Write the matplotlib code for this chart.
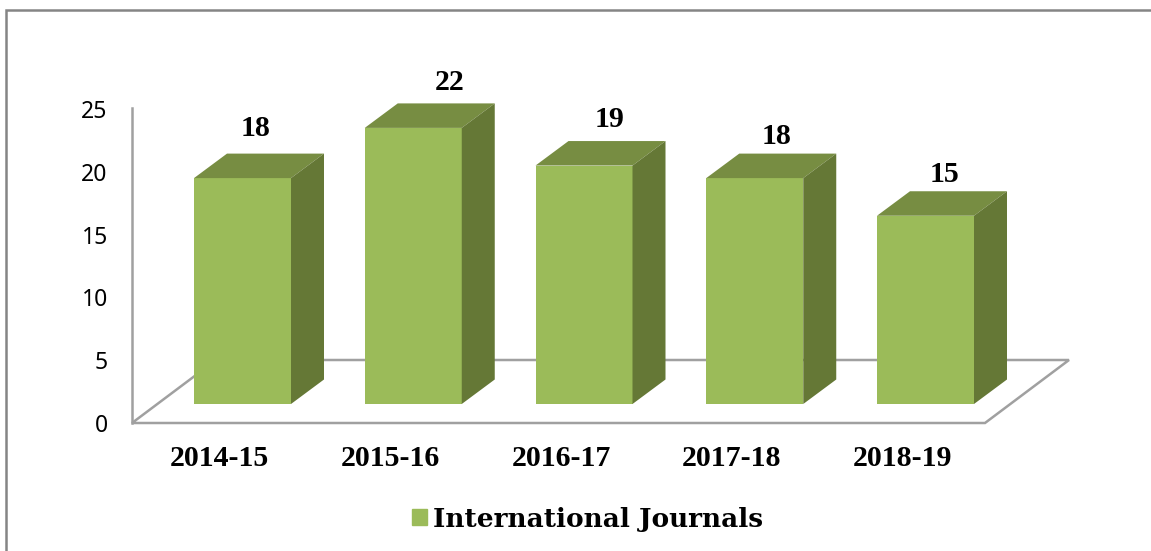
import matplotlib
matplotlib.use('Agg')
import matplotlib.pyplot as plt
from matplotlib.patches import Polygon, Patch, Rectangle

years = ['2014-15', '2015-16', '2016-17', '2017-18', '2018-19']
journals = [18, 22, 19, 18, 15]
y_ticks = [0, 5, 10, 15, 20, 25]
series_name = 'International Journals'

W, H = 1151, 551
PITCH = 170.75   # px per category
UNIT = 12.55     # px per value


def main():
    fig = plt.figure(figsize=(W / 100, H / 100), dpi=100)
    # frame of the picture
    fig.add_artist(Rectangle((6 / W, -0.02), 1.1, 1 - 10 / H + 0.02, transform=fig.transFigure,
                             fill=False, ec='#858585', lw=1.8))

    # axes: px 132..1069 across, px 423..108 up
    ax = fig.add_axes([132 / W, 1 - 423 / H, (1069 - 132) / W, 315 / H])
    ax.set_xlim((132 - 242.5) / PITCH, (1069 - 242.5) / PITCH)
    ax.set_ylim(0, 315 / UNIT)
    for s in ['top', 'right', 'bottom']:
        ax.spines[s].set_visible(False)
    ax.spines['left'].set_color('#a0a0a0')
    ax.spines['left'].set_linewidth(1.8)

    # floor
    x0, x1 = ax.get_xlim()
    dx_floor = 84 / PITCH
    dy_floor = 63 / UNIT
    ax.add_patch(Polygon([(x0, 0), (x1 - dx_floor, 0), (x1, dy_floor), (x0 + dx_floor, dy_floor)],
                         closed=True, fill=False, ec='#a0a0a0', lw=1.8, clip_on=False, zorder=1))

    base = 19 / UNIT
    bw = 97 / PITCH
    dx = 33 / PITCH
    dy = 24.5 / UNIT
    xs = list(range(len(years)))
    ax.bar(xs, journals, width=bw, bottom=base, color='#9bbb59', zorder=3)
    # px nudges of the value labels, they are not evenly placed in the reference
    nudge_x = [13.5, 36, 26, 22, 18.5]
    nudge_y = [25, 21, 22, 17, 17]
    for i, v in enumerate(journals):
        l, r = i - bw / 2, i + bw / 2
        t = v + base
        ax.add_patch(Polygon([(l, t), (r, t), (r + dx, t + dy), (l + dx, t + dy)], closed=True,
                             fc='#778d42', ec='none', zorder=3, clip_on=False))
        ax.add_patch(Polygon([(r, base), (r + dx, base + dy), (r + dx, t + dy), (r, t)], closed=True,
                             fc='#657836', ec='none', zorder=3, clip_on=False))
        ax.text(i + nudge_x[i] / PITCH, t + dy + nudge_y[i] / UNIT, str(v), ha='center', va='center',
                family='Liberation Serif', weight='bold', fontsize=21.5, color='black', clip_on=False)

    ax.set_yticks(y_ticks)
    ax.set_yticklabels([str(t) for t in y_ticks], family='Noto Sans', fontsize=16.5, color='black')
    ax.tick_params(axis='y', length=0, pad=17.5)
    ax.set_xticks([i - 0.135 for i in xs])
    ax.set_xticklabels(years, family='Liberation Serif', weight='bold', fontsize=21.5, color='black')
    ax.tick_params(axis='x', length=0, pad=15.5)

    handle = Patch(color='#9bbb59', label=series_name)
    fig.legend(handles=[handle], loc='center', bbox_to_anchor=(587.5 / W, 1 - 519 / H), frameon=False,
               prop={'family': 'DejaVu Serif', 'weight': 'bold', 'size': 19},
               handlelength=0.57, handleheight=0.57, handletextpad=0.2)

    fig.savefig('out.png', dpi=100, facecolor='white')


if __name__ == '__main__':
    main()
